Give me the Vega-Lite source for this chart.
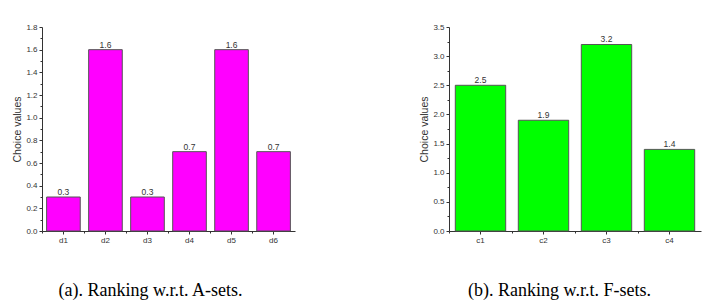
{
  "$schema": "https://vega.github.io/schema/vega-lite/v6.json",
  "padding": {"left": 12, "top": 23, "right": 5, "bottom": 5},
  "spacing": 124,
  "config": {
    "view": {"stroke": null},
    "axis": {
      "grid": false,
      "domainColor": "#333333",
      "tickColor": "#333333",
      "labelColor": "#333333",
      "labelFont": "Liberation Sans",
      "labelFontSize": 8,
      "titleFont": "Liberation Sans",
      "titleFontSize": 10.5,
      "titleFontWeight": "normal",
      "titleColor": "#333333",
      "tickSize": 3,
      "labelPadding": 2
    },
    "text": {"font": "Liberation Sans", "fontSize": 8.5, "color": "#333333"}
  },
  "hconcat": [
    {
      "width": 253,
      "height": 204,
      "data": {"values": [
        {"alt": "d1", "value": 0.3},
        {"alt": "d2", "value": 1.6},
        {"alt": "d3", "value": 0.3},
        {"alt": "d4", "value": 0.7},
        {"alt": "d5", "value": 1.6},
        {"alt": "d6", "value": 0.7}
      ]},
      "resolve": {"axis": {"x": "independent", "y": "independent"}},
      "layer": [
        {
          "mark": {"type": "bar", "fill": "#ff00ff", "stroke": "#555555", "strokeWidth": 1},
          "encoding": {
            "x": {"field": "alt", "type": "nominal", "sort": null,
              "scale": {"paddingInner": 0.2, "paddingOuter": 0.11},
              "axis": {"orient": "bottom", "labelAngle": 0, "title": "(a). Ranking w.r.t. A-sets.", "titleFont": "Liberation Serif", "titleFontSize": 18, "titleColor": "#000000", "titleX": 108, "titleY": 64, "titleBaseline": "alphabetic", "titleAlign": "center"}},
            "y": {"field": "value", "type": "quantitative",
              "scale": {"domain": [0, 1.8], "nice": false},
              "axis": {"orient": "left", "values": [0, 0.2, 0.4, 0.6, 0.8, 1.0, 1.2, 1.4, 1.6, 1.8], "format": ".1f", "title": "Choice values", "titlePadding": 3}}
          }
        },
        {
          "mark": {"type": "text", "dy": -5},
          "encoding": {
            "x": {"field": "alt", "type": "nominal", "sort": null, "axis": null},
            "y": {"field": "value", "type": "quantitative", "axis": null},
            "text": {"field": "value", "type": "quantitative", "format": ".1f"}
          }
        },
        {
          "mark": {"type": "bar", "opacity": 0},
          "encoding": {
            "x": {"field": "alt", "type": "nominal", "sort": null,
              "axis": {"orient": "bottom", "labels": false, "domain": false, "title": null, "tickSize": 2, "bandPosition": -0.125}},
            "y": {"field": "value", "type": "quantitative",
              "axis": {"orient": "left", "labels": false, "domain": false, "title": null, "tickSize": 2, "values": [0.1, 0.3, 0.5, 0.7, 0.9, 1.1, 1.3, 1.5, 1.7]}}
          }
        }
      ]
    },
    {
      "width": 252,
      "height": 204,
      "data": {"values": [
        {"alt": "c1", "value": 2.5},
        {"alt": "c2", "value": 1.9},
        {"alt": "c3", "value": 3.2},
        {"alt": "c4", "value": 1.4}
      ]},
      "resolve": {"axis": {"x": "independent", "y": "independent"}},
      "layer": [
        {
          "mark": {"type": "bar", "fill": "#00ff00", "stroke": "#555555", "strokeWidth": 1},
          "encoding": {
            "x": {"field": "alt", "type": "nominal", "sort": null,
              "scale": {"paddingInner": 0.2, "paddingOuter": 0.1},
              "axis": {"orient": "bottom", "labelAngle": 0, "title": "(b). Ranking w.r.t. F-sets.", "titleFont": "Liberation Serif", "titleFontSize": 18, "titleColor": "#000000", "titleX": 110, "titleY": 64, "titleBaseline": "alphabetic", "titleAlign": "center"}},
            "y": {"field": "value", "type": "quantitative",
              "scale": {"domain": [0, 3.5], "nice": false},
              "axis": {"orient": "left", "values": [0, 0.5, 1.0, 1.5, 2.0, 2.5, 3.0, 3.5], "format": ".1f", "title": "Choice values", "titlePadding": 3}}
          }
        },
        {
          "mark": {"type": "text", "dy": -5},
          "encoding": {
            "x": {"field": "alt", "type": "nominal", "sort": null, "axis": null},
            "y": {"field": "value", "type": "quantitative", "axis": null},
            "text": {"field": "value", "type": "quantitative", "format": ".1f"}
          }
        },
        {
          "mark": {"type": "bar", "opacity": 0},
          "encoding": {
            "x": {"field": "alt", "type": "nominal", "sort": null,
              "axis": {"orient": "bottom", "labels": false, "domain": false, "title": null, "tickSize": 2, "bandPosition": -0.125}},
            "y": {"field": "value", "type": "quantitative",
              "axis": {"orient": "left", "labels": false, "domain": false, "title": null, "tickSize": 2, "values": [0.25, 0.75, 1.25, 1.75, 2.25, 2.75, 3.25]}}
          }
        }
      ]
    }
  ]
}
